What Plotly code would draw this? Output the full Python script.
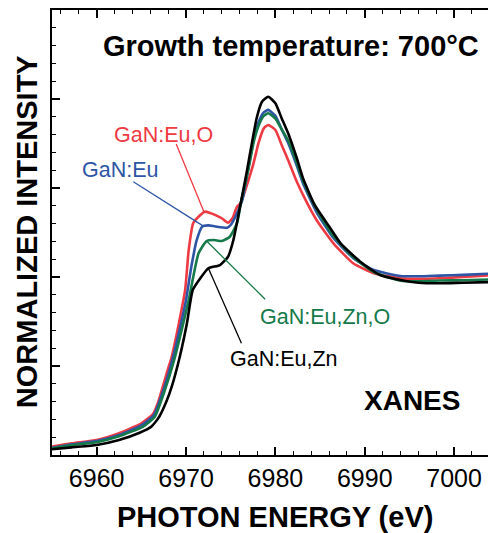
import plotly.graph_objects as go

# ---- data ----
energy_black = [6955.0, 6957.2, 6960.0, 6962.5, 6964.8, 6966.1, 6967.0, 6967.8, 6968.4, 6969.3, 6970.1, 6970.75,
                6971.6, 6972.5, 6973.8, 6974.7, 6975.3, 6975.9, 6976.8, 6977.4, 6977.9, 6978.5, 6979.2,
                6980.0, 6980.7, 6981.5, 6982.4, 6983.1, 6984.3, 6985.0, 6986.0, 6987.3, 6989.5, 6991.7,
                6994.0, 6996.0, 6998.4, 7001.0, 7004.8]
gan_eu_zn = [0.032, 0.043, 0.056, 0.084, 0.125, 0.159, 0.215, 0.300, 0.384, 0.552, 0.740, 0.927,
             0.993, 1.049, 1.067, 1.114, 1.208, 1.358, 1.592, 1.760, 1.892, 1.985, 2.013,
             1.976, 1.892, 1.798, 1.667, 1.554, 1.414, 1.358, 1.285, 1.189, 1.086, 1.011,
             0.983, 0.968, 0.965, 0.968, 0.972]

energy_red = [6955.0, 6957.2, 6960.0, 6962.5, 6965.0, 6966.3, 6966.9, 6967.4, 6967.9, 6968.4, 6969.2, 6969.9,
              6970.3, 6970.8, 6971.6, 6972.1, 6972.7, 6973.3, 6974.0, 6974.7, 6975.2, 6975.7, 6976.1,
              6977.5, 6978.1, 6978.7, 6979.2, 6980.0, 6980.7, 6981.5, 6982.4, 6983.4, 6984.6, 6986.5,
              6988.7, 6991.0, 6994.0, 6996.0, 6998.4, 7001.0, 7004.8]
gan_eu_o = [0.047, 0.066, 0.084, 0.122, 0.178, 0.230, 0.300, 0.384, 0.470, 0.552, 0.740, 0.927,
            1.152, 1.302, 1.348, 1.367, 1.360, 1.348, 1.330, 1.305, 1.330, 1.395, 1.414,
            1.629, 1.751, 1.835, 1.854, 1.826, 1.742, 1.648, 1.535, 1.430, 1.320, 1.189,
            1.077, 1.021, 0.993, 0.990, 0.993, 1.000, 1.011]

energy_blue = [6955.0, 6957.2, 6960.0, 6962.5, 6965.1, 6966.4, 6967.5, 6968.5, 6969.35, 6970.0, 6970.6, 6971.2,
               6971.8, 6972.5, 6973.3, 6974.6, 6975.0, 6975.7, 6976.3, 6977.0, 6977.6, 6978.2, 6978.7,
               6979.2, 6980.0, 6980.7, 6981.5, 6982.4, 6983.1, 6984.6, 6986.5, 6988.7, 6991.0, 6994.0,
               6996.0, 6998.4, 7001.0, 7004.8]
gan_eu = [0.040, 0.060, 0.078, 0.112, 0.170, 0.225, 0.370, 0.540, 0.720, 0.871, 1.060, 1.208,
          1.283, 1.290, 1.284, 1.277, 1.292, 1.358, 1.433, 1.620, 1.780, 1.880, 1.925,
          1.939, 1.905, 1.830, 1.745, 1.625, 1.525, 1.365, 1.219, 1.107, 1.039, 1.006,
          1.004, 1.008, 1.012, 1.021]

energy_green = [6955.0, 6957.2, 6960.0, 6962.5, 6965.2, 6966.5, 6967.6, 6968.65, 6969.5, 6970.3, 6971.4, 6972.3,
                6973.1, 6974.0, 6974.9, 6975.7, 6976.2, 6977.0, 6977.6, 6978.2, 6978.7, 6979.2, 6980.0,
                6980.7, 6981.5, 6982.4, 6983.1, 6984.6, 6986.5, 6988.7, 6991.0, 6994.0, 6996.0, 6998.4,
                7001.0, 7004.8]
gan_eu_zn_o = [0.038, 0.055, 0.072, 0.105, 0.160, 0.215, 0.360, 0.530, 0.700, 0.871, 1.133, 1.202,
               1.208, 1.202, 1.226, 1.302, 1.433, 1.610, 1.765, 1.860, 1.905, 1.920, 1.890,
               1.830, 1.760, 1.640, 1.540, 1.382, 1.230, 1.112, 1.028, 0.979, 0.976, 0.980,
               0.982, 0.987]

labels = ["GaN:Eu,O", "GaN:Eu", "GaN:Eu,Zn,O", "GaN:Eu,Zn"]
colors = ["#EE3A43", "#2E55A5", "#16794A", "#000000"]
label_pos = [(6967.5, 1.80), (6962.6, 1.60), (6985.5, 0.777), (6981.0, 0.538)]
leader_start = [(6968.9, 1.747), (6964.1, 1.535), (6978.85, 0.875), (6976.2, 0.628)]
leader_end = [(6972.0, 1.367), (6971.9, 1.287), (6972.3, 1.202), (6972.5, 1.049)]

x_ticks = [6960, 6970, 6980, 6990, 7000]

FONT = "Liberation Sans, Arial, sans-serif"

fig = go.Figure()
series = [(energy_red, gan_eu_o), (energy_blue, gan_eu), (energy_green, gan_eu_zn_o), (energy_black, gan_eu_zn)]
for (xs, ys), name, col in zip(series, labels, colors):
    fig.add_trace(go.Scatter(x=xs, y=ys, mode="lines", name=name,
                             line=dict(color=col, width=2.6, shape="spline", smoothing=0.5),
                             showlegend=False))

for (lx, ly), (sx, sy), (ex, ey), name, col in zip(label_pos, leader_start, leader_end, labels, colors):
    fig.add_shape(type="line", x0=sx, y0=sy, x1=ex, y1=ey, xref="x", yref="y",
                  line=dict(color=col, width=1.3))
    fig.add_annotation(x=lx, y=ly, xref="x", yref="y", text=name, showarrow=False,
                       font=dict(family=FONT, size=21.5, color=col))

fig.add_annotation(x=6981.7, y=2.30, xref="x", yref="y", text="<b>Growth temperature: 700°C</b>",
                   showarrow=False, font=dict(family=FONT, size=29, color="black"))
fig.add_annotation(x=6995.3, y=0.309, xref="x", yref="y", text="<b>XANES</b>",
                   showarrow=False, font=dict(family=FONT, size=28, color="black"))
fig.add_annotation(x=0.502, y=-0.139, xref="paper", yref="paper", text="<b>PHOTON ENERGY (eV)</b>",
                   showarrow=False, yanchor="middle", font=dict(family=FONT, size=29, color="black"))
fig.add_annotation(x=-0.056, y=0.501, xref="paper", yref="paper", text="<b>NORMALIZED INTENSITY</b>",
                   showarrow=False, textangle=-90, xanchor="center", yanchor="middle",
                   font=dict(family=FONT, size=29, color="black"))

# page has an 8px body margin, so margins are offset to keep the plot where the reference has it
fig.update_layout(
    width=496, height=533,
    margin=dict(l=44, r=7, t=2, b=86),
    plot_bgcolor="white", paper_bgcolor="white",
    font=dict(family=FONT, color="black"),
)
fig.update_xaxes(range=[6955, 7004.8], tickvals=x_ticks, ticktext=[str(v) for v in x_ticks],
                 ticks="inside", ticklen=8, tickwidth=1.5, tickcolor="black",
                 minor=dict(dtick=2, tick0=6960, ticks="inside", ticklen=4, tickwidth=1.2, tickcolor="black"),
                 showline=True, linecolor="black", linewidth=2, mirror="allticks",
                 showgrid=False, zeroline=False, automargin=False,
                 tickfont=dict(family=FONT, size=25, color="black"))
fig.update_yaxes(range=[0, 2.5], dtick=0.5, tick0=0, showticklabels=False,
                 ticks="inside", ticklen=8, tickwidth=1.5, tickcolor="black",
                 minor=dict(dtick=0.1, ticks="inside", ticklen=4, tickwidth=1.2, tickcolor="black"),
                 showline=True, linecolor="black", linewidth=2, mirror="allticks",
                 showgrid=False, zeroline=False, automargin=False)

fig.write_html("out.html")
